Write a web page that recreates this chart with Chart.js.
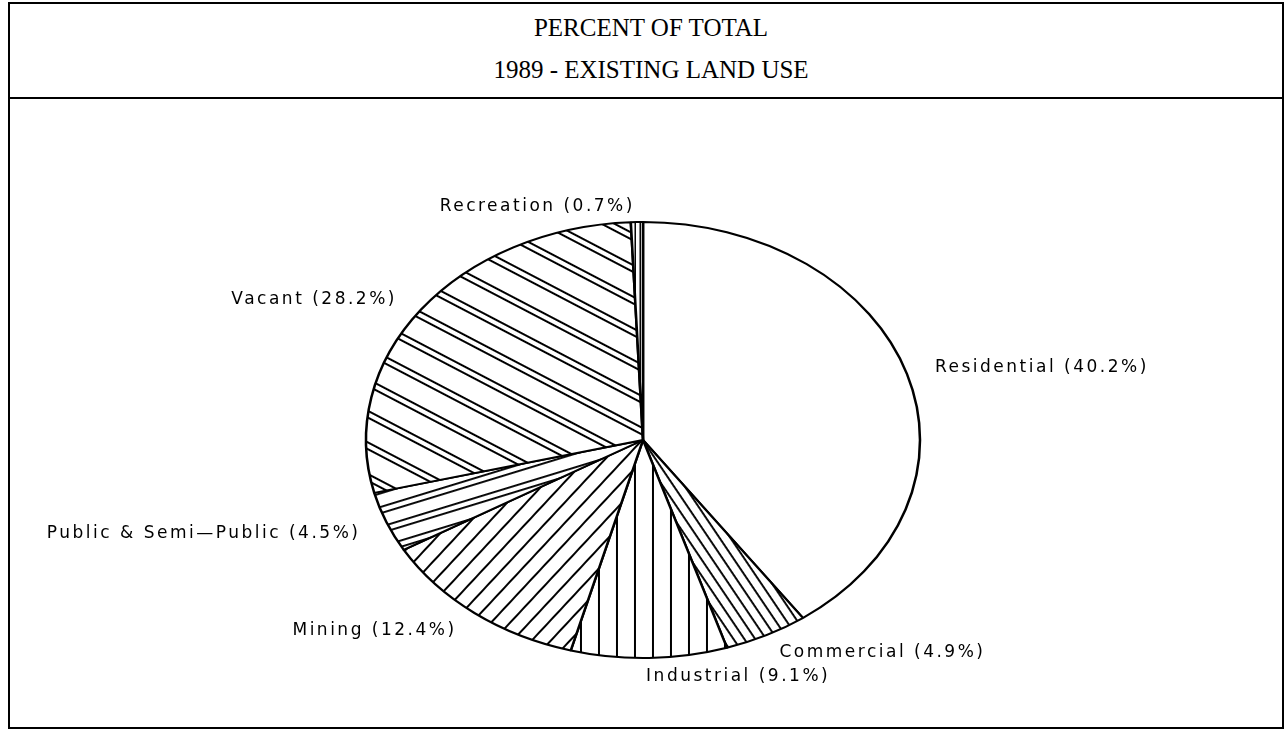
<!DOCTYPE html>
<html>
<head>
<meta charset="utf-8">
<title>1989 - Existing Land Use</title>
<script src="https://cdn.jsdelivr.net/npm/chart.js@4.4.0/dist/chart.umd.min.js"></script>
<style>
  html, body { margin: 0; padding: 0; background: #fff; }
  #wrap { position: relative; width: 1287px; height: 729px; overflow: hidden; }
  #frame { position: absolute; left: 8px; top: 2px; width: 1272px; height: 723px; border: 2px solid #000; }
  #head { position: absolute; left: 8px; top: 2px; width: 1276px; height: 95px; border-bottom: 2px solid #000; }
  .tl { position: absolute; left: 0; width: 100%; text-align: center; font: 25px "Liberation Serif", "Times New Roman", serif; line-height: 30px; color: #000; padding-left: 10px; box-sizing: border-box; }
  #chart { position: absolute; left: 0; top: 0; }
</style>
</head>
<body>
<div id="wrap">
  <div id="frame"></div>
  <div id="head">
    <div class="tl" style="top:11px">PERCENT OF TOTAL</div>
    <div class="tl" style="top:53px">1989 - EXISTING LAND USE</div>
  </div>
  <canvas id="chart" width="1287" height="729"></canvas>
</div>
<script>
/* ── Data ───────────────────────────────────────────────────────── */
const categories = ['Residential', 'Commercial', 'Industrial', 'Mining',
                    'Public & Semi\u2014Public', 'Vacant', 'Recreation'];
const percents   = [40.2, 4.9, 9.1, 12.4, 4.5, 28.2, 0.7];

/* ── Look ───────────────────────────────────────────────────────── */
const RX = 277, RY = 218;          // ellipse radii on screen
const SX = RX / RY;                // horizontal stretch of the round pie

// hatch: angle (deg, screen), period, line width, second-line gap
const hatches = [
  null,
  { a: 56,   p: 9,  w: 1.9, g: 0 },
  { a: 90,   p: 18, w: 2.0, g: 0 },
  { a: -47,  p: 14, w: 2.0, g: 0 },
  { a: -17,  p: 19, w: 1.9, g: 6 },
  { a: 27.6, p: 28, w: 2.0, g: 6 },
  { a: 90,   p: 5,  w: 1.5, g: 0 },
];

// label placement relative to the slice's outer mid point
const labelLayout = [
  { dx: 28,  dy: -6,  align: 'left'  },
  { dx: 13,  dy: 17,  align: 'left'  },
  { dx: -3,  dy: 19,  align: 'left'  },
  { dx: -18, dy: 17,  align: 'right' },
  { dx: -26, dy: 11,  align: 'right' },
  { dx: -24, dy: -10, align: 'right' },
  { dx: -2,  dy: -15, align: 'right' },
];

const ctx = document.getElementById('chart').getContext('2d');

function makeHatch(h) {
  if (!h) return '#ffffff';
  const c = document.createElement('canvas');
  c.width = 8; c.height = h.p * 4;
  const g = c.getContext('2d');
  g.fillStyle = '#fff';
  g.fillRect(0, 0, c.width, c.height);
  g.fillStyle = '#000';
  for (let k = 0; k < 4; k++) {
    const y0 = k * h.p;
    g.fillRect(0, y0, c.width, h.w);
    if (h.g) g.fillRect(0, y0 + h.g, c.width, h.w);
  }
  const pat = ctx.createPattern(c, 'repeat');
  // undo the horizontal stretch, then rotate the stripes
  pat.setTransform(new DOMMatrix().scale(1 / SX, 1).rotate(h.a));
  return pat;
}
const fills = hatches.map(makeHatch);

/* ── Plugins ────────────────────────────────────────────────────── */
const ellipse = {
  id: 'ellipse',
  beforeDatasetsDraw(chart) {
    const a = chart.getDatasetMeta(0).data[0];
    const c = chart.ctx;
    c.save();
    c.translate(a.x, a.y);
    c.scale(SX, 1);
    c.translate(-a.x, -a.y);
  },
  afterDatasetsDraw(chart) { chart.ctx.restore(); }
};

const sliceLabels = {
  id: 'sliceLabels',
  afterDraw(chart) {
    const c = chart.ctx;
    const arcs = chart.getDatasetMeta(0).data;
    c.save();
    c.fillStyle = '#000';
    c.font = '17px "DejaVu Sans", sans-serif';
    c.letterSpacing = '2.5px';
    c.textBaseline = 'middle';
    arcs.forEach((arc, i) => {
      const mid = (arc.startAngle + arc.endAngle) / 2;
      const px = arc.x + SX * arc.outerRadius * Math.cos(mid);
      const py = arc.y + arc.outerRadius * Math.sin(mid);
      const L = labelLayout[i];
      c.textAlign = L.align;
      c.fillText(`${categories[i]} (${percents[i]}%)`, px + L.dx, py + L.dy);
    });
    c.restore();
  }
};

/* ── Chart ──────────────────────────────────────────────────────── */
new Chart(ctx, {
  type: 'pie',
  data: {
    labels: categories,
    datasets: [{
      data: percents,
      backgroundColor: fills,
      borderColor: '#000',
      borderWidth: 2,
      radius: RY,
    }]
  },
  options: {
    responsive: false,
    animation: false,
    events: [],
    layout: { padding: { left: 100, right: 101, top: 160, bottom: 9 } },
    plugins: {
      legend: { display: false },
      tooltip: { enabled: false },
      title: { display: false }
    }
  },
  plugins: [ellipse, sliceLabels]
});
</script>
</body>
</html>
